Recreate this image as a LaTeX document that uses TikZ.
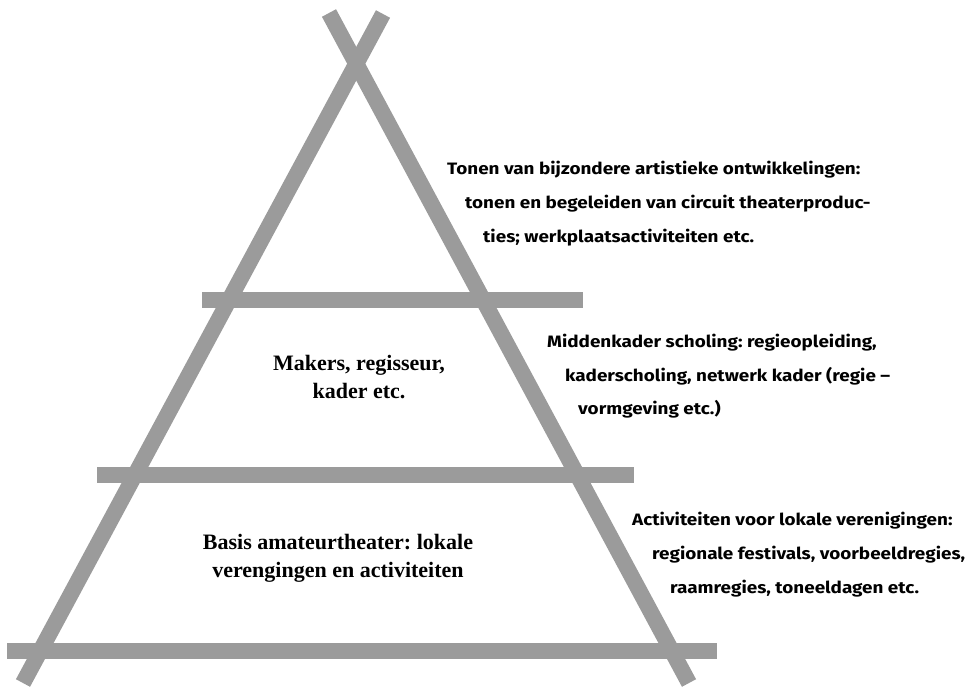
\documentclass[tikz,border=0pt]{standalone}
\usepackage{fontspec}
\setmainfont{Liberation Serif}
\newfontfamily\notefont[FakeStretch=1.145]{Fira Sans}
\definecolor{polegray}{RGB}{155,155,155}
\frenchspacing
\begin{document}
\begin{tikzpicture}[x=1pt,y=-1pt]
  \tikzstyle{pole}=[draw=polegray,line width=16pt]
  \tikzstyle{level}=[font=\bfseries\fontsize{22}{28}\selectfont,align=center,inner sep=0pt]
  \tikzstyle{note}=[font=\notefont\bfseries\fontsize{16.5}{18}\selectfont,anchor=base west,inner sep=0pt]
  \useasboundingbox (0,0) rectangle (967,686);
  \coordinate (lt) at (329,13);
  \coordinate (rt) at (383,14);
  \coordinate (lb) at (23,683);
  \coordinate (rb) at (689,683);
  \draw [pole] (lt) -- (rb);
  \draw [pole] (rt) -- (lb);
  \draw [pole] (202,299.5) -- (583,299.5);
  \draw [pole] (97,474.5) -- (634,474.5);
  \draw [pole] (7,651) -- (717,651);
  \node [level] (mid) at (359,377) {Makers, regisseur,\\kader etc.};
  \node [level] (base) at (338,558) {Basis amateurtheater: lokale\\verengingen en activiteiten};
  \node [note] (t1) at (447,174) {Tonen van bijzondere artistieke ontwikkelingen:};
  \node [note] (t2) at (465,208) {tonen en begeleiden van circuit theaterproduc-};
  \node [note] (t3) at (483,242) {ties; werkplaatsactiviteiten etc.};
  \node [note] (m1) at (547,347) {Middenkader scholing: regieopleiding,};
  \node [note] (m2) at (565,381) {kaderscholing, netwerk kader (regie –};
  \node [note] (m3) at (578,414) {vormgeving etc.)};
  \node [note] (b1) at (632,525) {Activiteiten voor lokale verenigingen:};
  \node [note] (b2) at (652,559) {regionale festivals, voorbeeldregies,};
  \node [note] (b3) at (670,593) {raamregies, toneeldagen etc.};
\end{tikzpicture}
\end{document}
